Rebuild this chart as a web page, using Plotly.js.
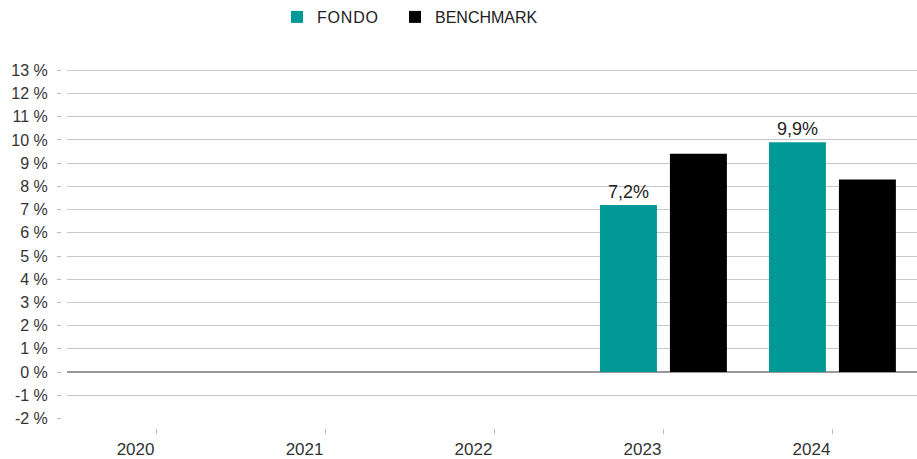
<!DOCTYPE html>
<html>
<head>
<meta charset="utf-8">
<script src="https://cdn.plot.ly/plotly-3.0.1.min.js"></script>
<style>html,body{margin:0;padding:0;background:#fff;}#chart{width:917px;height:459px;}
.legendtext{letter-spacing:0.8px;}</style>
</head>
<body>
<div id="chart"></div>
<script>
const years = ['2020', '2021', '2022', '2023', '2024'];
const fondo = [null, null, null, 7.2, 9.9];
const benchmark = [null, null, null, 9.4, 8.3];
const seriesNames = ['FONDO', 'BENCHMARK'];
const yTickVals = [-2, -1, 0, 1, 2, 3, 4, 5, 6, 7, 8, 9, 10, 11, 12, 13];
const yTickText = ['-2 %', '-1 %', '0 %', '1 %', '2 %', '3 %', '4 %', '5 %', '6 %', '7 %', '8 %', '9 %', '10 %', '11 %', '12 %', '13 %'];

const font = 'Liberation Sans, Arial, sans-serif';
const traces = [
  {
    type: 'bar', name: seriesNames[0], x: years, y: fondo, legend: 'legend',
    marker: {color: '#009995'}, width: 0.337, offset: -0.376,
    texttemplate: '%{y:.1f}%', textposition: 'outside',
    textfont: {family: font, size: 18, color: '#222'}, cliponaxis: false
  },
  {
    type: 'bar', name: seriesNames[1], x: years, y: benchmark, legend: 'legend2',
    marker: {color: '#000000'}, width: 0.337, offset: 0.038
  }
];
const legendBase = {
  orientation: 'h', xref: 'container', yref: 'container',
  xanchor: 'left', y: 1.0, yanchor: 'top',
  font: {family: font, size: 16, color: '#222'}
};
const layout = {
  width: 917, height: 459,
  margin: {l: 61, r: 0, t: 61, b: 31},
  paper_bgcolor: '#fff', plot_bgcolor: '#fff',
  separators: ',.',
  font: {family: font, size: 16, color: '#333'},
  showlegend: true,
  legend: Object.assign({}, legendBase, {x: 277/917}),
  legend2: Object.assign({}, legendBase, {x: 395/917}),
  xaxis: {
    type: 'category', domain: [6/856, 1], range: [-0.53, 4.5],
    anchor: 'free', position: 0,
    showgrid: false, zeroline: false, showline: false,
    ticks: 'outside', ticklen: 5, tickcolor: '#bbb', tickwidth: 1,
    ticklabelshift: -21, ticklabelstandoff: 1,
    tickfont: {family: font, size: 17, color: '#333'}
  },
  yaxis: {
    domain: [9.5/367, 1], range: [-2, 13.4],
    anchor: 'free', position: 0,
    tickmode: 'array', tickvals: yTickVals, ticktext: yTickText,
    showgrid: true, gridcolor: '#c8c8c8', gridwidth: 1,
    zeroline: true, zerolinecolor: '#999', zerolinewidth: 2,
    showline: false,
    ticks: 'outside', ticklen: 4, tickcolor: '#bbb', tickwidth: 1,
    ticklabelstandoff: 6,
    tickfont: {family: font, size: 16, color: '#333'}
  }
};
Plotly.newPlot('chart', traces, layout, {staticPlot: true, displayModeBar: false});
</script>
</body>
</html>
